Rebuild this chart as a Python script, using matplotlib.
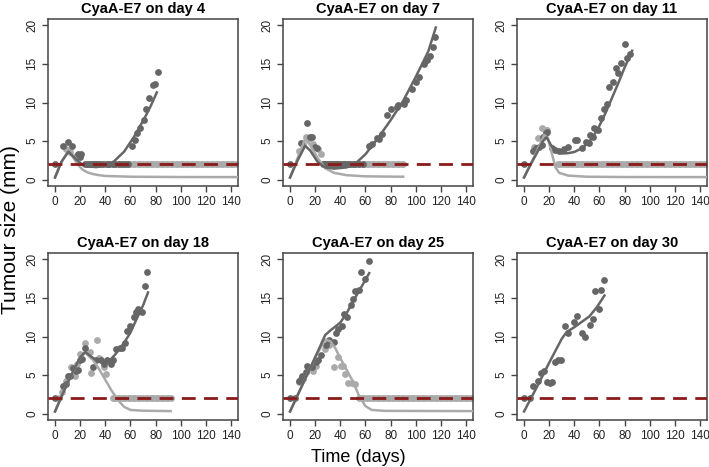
import numpy as np
import matplotlib
matplotlib.use("Agg")
import matplotlib.pyplot as plt

plt.rcParams['font.family'] = ['Liberation Sans', 'DejaVu Sans']

DARK = '#666666'
LIGHT = '#aaaaaa'
RED = '#8b1a1a'
LIMIT = 2.0  # detection limit (mm)

titles = ['CyaA-E7 on day 4', 'CyaA-E7 on day 7', 'CyaA-E7 on day 11',
          'CyaA-E7 on day 18', 'CyaA-E7 on day 25', 'CyaA-E7 on day 30']
xticks = [0, 20, 40, 60, 80, 100, 120, 140]
yticks = [0, 5, 10, 15, 20]

# ---- day 4
d4_dark_t = [0, 6.7, 10.7, 13.3, 18, 19.5, 21, 61, 64, 65.5, 68, 71, 72, 75, 77.6, 79.5, 82]
d4_dark_y = [2.0, 4.4, 4.9, 4.4, 3.4, 3.0, 3.4, 4.4, 5.2, 6.0, 6.75, 7.7, 9.1, 10.6, 12.3, 12.4, 13.9]
d4_light_t = [9, 12, 17]
d4_light_y = [4.0, 3.6, 3.1]
d4_cens_dark = [24, 25.5, 27, 28.5, 30, 31.5, 33, 34.5, 36, 38, 41, 43, 46, 48, 51, 53, 56, 58]
d4_cens_light = [40, 42, 44, 46, 48, 50, 52, 54, 56, 58, 60, 62, 64, 66, 68, 70, 72, 74, 76,
                 78, 80, 82, 84, 86, 88, 90, 92, 94, 96, 98, 100, 102, 104, 106, 108, 110,
                 112, 114, 116, 118, 120, 122, 124, 126, 128, 130, 132, 134, 136, 138, 140,
                 142, 144]
d4_fit_t = [0, 5, 10.7, 17, 22.7, 28, 33, 41, 47, 55, 63, 71, 76, 81]
d4_fit_y = [0.3, 2.3, 3.65, 2.6, 1.85, 1.7, 1.65, 1.85, 2.4, 3.65, 5.6, 7.9, 9.5, 11.3]
d4_clear_t = [0, 5, 10, 14, 18, 22, 26, 30, 35, 40, 50, 60, 80, 100, 145]
d4_clear_y = [0.3, 2.3, 3.6, 3.0, 2.0, 1.3, 0.95, 0.75, 0.6, 0.5, 0.45, 0.4, 0.38, 0.36, 0.35]

# ---- day 7
d7_dark_t = [0, 8.6, 13.8, 15.6, 17.7, 19.8, 21.6, 62.5, 65, 69, 70.5, 72.8, 77.3, 80.7, 85,
             86.3, 91, 92, 97, 100, 103, 106.4, 109, 111.6, 113.7, 115]
d7_dark_y = [2.0, 4.7, 7.4, 5.5, 5.5, 4.3, 4.1, 4.4, 4.6, 5.4, 5.3, 5.9, 8.4, 9.1, 9.4,
             9.7, 9.8, 10.3, 11.7, 12.7, 13.3, 15.0, 15.5, 16.0, 17.2, 18.5]
d7_light_t = [7.3, 10, 12.5, 15, 18, 22, 25]
d7_light_y = [3.7, 4.6, 5.6, 5.3, 4.6, 4.0, 3.4]
d7_cens_dark = [26, 27.5, 29, 30.5, 32, 33.5, 35, 36.5, 38, 40, 42, 44, 46, 48, 50, 52,
                55, 58]
d7_cens_light = [27, 29, 31, 33, 35, 37, 39, 41, 43, 45, 47, 49, 51, 53, 55, 57, 59, 61,
                 63, 65, 67, 69, 71, 73, 75, 77, 79, 81, 83, 85, 87, 89, 90]
d7_fit_t = [0, 6, 12, 16, 22, 28, 35, 45, 52, 60, 70, 80, 90, 100, 110, 116]
d7_fit_y = [0.3, 2.5, 4.4, 3.8, 2.3, 1.6, 1.45, 1.6, 2.1, 3.3, 5.4, 7.7, 10.2, 13.3, 16.6, 19.7]
d7_clear_t = [0, 6, 12, 16, 22, 28, 35, 45, 60, 75, 90]
d7_clear_y = [0.3, 2.8, 5.3, 4.5, 2.8, 1.5, 0.9, 0.6, 0.45, 0.42, 0.4]

# ---- day 11
d11_dark_t = [0, 7, 9.6, 12, 14, 14.7, 17.3, 18, 22.5, 25, 27.6, 31.5, 34.6, 40.6, 42.4,
              46.5, 49.6, 51.7, 52.7, 54.8, 56, 58.7, 61.2, 63.8, 66.4, 67.7, 70.8,
              72.9, 75, 77.5, 80, 82, 84]
d11_dark_y = [2.0, 3.7, 4.1, 4.3, 4.5, 5.6, 6.0, 6.2, 4.1, 3.8, 3.7, 4.0, 4.3, 5.1, 5.1,
              4.1, 4.9, 4.7, 5.8, 5.6, 6.7, 6.5, 8.0, 9.2, 9.8, 12.0, 12.7,
              14.4, 13.8, 15.1, 17.6, 15.7, 16.3]
d11_light_t = [8, 10.9, 14, 16.5, 18.6]
d11_light_y = [4.2, 5.4, 6.75, 6.45, 6.45]
d11_cens_dark = []
d11_cens_light = [27, 29, 31, 33, 35, 37, 39, 41, 43, 45, 47, 49, 51, 53, 55, 57, 59, 61,
                  63, 65, 67, 69, 71, 73, 75, 77, 79, 81, 83, 85, 87, 89, 91, 93, 95, 97,
                  99, 101, 103, 105, 107, 109, 111, 113, 115, 117, 119, 121, 123, 125,
                  127, 129, 131, 133, 135, 137, 139, 141, 143, 145]
d11_fit_t = [0, 5, 10, 15, 18, 21, 25, 30, 35, 40, 45, 50, 55, 60, 65, 70, 75, 80, 86]
d11_fit_y = [0.3, 1.9, 3.4, 5.0, 5.5, 4.6, 3.7, 3.4, 3.45, 3.6, 4.0, 4.6, 5.6, 7.0, 8.7,
             10.6, 12.5, 14.5, 16.7]
d11_clear_t = [0, 5, 10, 16, 19, 22, 25, 28, 35, 50, 80, 145]
d11_clear_y = [0.3, 2.0, 3.6, 5.8, 5.4, 3.5, 1.6, 0.9, 0.55, 0.4, 0.36, 0.35]

# ---- day 18
d18_dark_t = [0, 6.5, 9.1, 10.4, 12, 14.3, 16.4, 18.2, 19.5, 21.6, 24.2, 30, 32.6, 36.5, 39,
              41.7, 44.3, 46, 48.2, 51.3, 53.4, 55.5, 57.3, 59.9, 62.5, 64.3, 66.4, 69,
              71.6, 73.4]
d18_dark_y = [2.0, 3.65, 3.9, 4.9, 4.9, 5.9, 5.6, 5.7, 7.0, 7.1, 8.5, 6.1, 6.9, 6.9, 6.45,
              6.9, 6.45, 7.0, 8.4, 8.5, 8.5, 9.1, 10.7, 11.3, 12.5, 13.2, 13.5, 13.2,
              16.5, 18.3]
d18_light_t = [5.2, 8.6, 13, 15.6, 17.4, 20, 24.2, 27.9, 28.6, 33, 35, 39, 40.9]
d18_light_y = [2.8, 4.3, 6.0, 4.9, 6.5, 7.7, 9.2, 8.0, 5.3, 9.5, 7.2, 6.0, 5.2]
d18_cens_dark = []
d18_cens_light = [3, 46, 48, 50, 52, 54, 56, 58, 60, 62, 64, 66, 68, 70, 72, 74, 76, 78,
                  80, 82, 84, 86, 88, 90, 92]
d18_fit_t = [0, 5, 10, 15, 20, 24, 28, 33, 38, 43, 48, 55, 60, 65, 70, 74]
d18_fit_y = [0.3, 2.2, 4.0, 5.7, 7.3, 8.0, 7.5, 6.9, 6.6, 6.8, 7.7, 9.2, 10.5, 12.3, 14.0, 15.7]
d18_clear_t = [0, 10, 20, 24, 30, 35, 40, 45, 50, 55, 60, 70, 92]
d18_clear_y = [0.3, 4.0, 7.3, 7.9, 7.0, 5.8, 4.4, 3.0, 1.8, 0.9, 0.5, 0.4, 0.35]

# ---- day 25
d25_dark_t = [0, 4.2, 6.8, 8.6, 9.9, 12.5, 13.8, 17.2, 20.3, 22, 25, 28.6, 31.2, 34.6, 36.5,
              38.5, 41, 43, 45, 48.4, 50.3, 52, 54.7, 56.8, 59.4, 62.5]
d25_dark_y = [2.0, 2.0, 4.3, 4.5, 4.9, 5.4, 6.2, 6.0, 6.75, 6.9, 7.6, 8.9, 9.6, 9.3, 10.5,
              11.0, 11.3, 12.9, 12.5, 14.1, 14.8, 15.9, 16.0, 18.3, 17.5, 19.8]
d25_light_t = [6.8, 10, 18.2, 20.3, 27.6, 31.2, 34.6, 38.5, 40.6, 42.4, 43.7, 46.4, 49, 52]
d25_light_y = [4.1, 4.5, 5.5, 6.2, 8.4, 8.9, 6.1, 7.3, 6.2, 6.2, 5.2, 4.0, 4.0, 3.9]
d25_cens_dark = []
d25_cens_light = [55, 57, 59, 61, 63, 65, 67, 69, 71, 73, 75, 77, 79, 81, 83, 85, 87, 89,
                  91, 93, 95, 97, 99, 101, 103, 105, 107, 109, 111, 113, 115, 117, 119,
                  121, 123, 125, 127, 129, 131, 133, 135, 137, 139, 141, 143, 145]
d25_fit_t = [0, 10, 20, 28, 33, 40, 45, 50, 55, 63]
d25_fit_y = [0.3, 3.8, 7.3, 10.2, 10.9, 11.8, 13.0, 14.5, 15.9, 18.2]
d25_clear_t = [0, 10, 20, 28, 32, 36, 40, 45, 50, 55, 60, 65, 75, 145]
d25_clear_y = [0.3, 3.8, 7.3, 9.6, 9.4, 8.5, 7.2, 5.7, 4.2, 2.3, 1.0, 0.5, 0.38, 0.35]

# ---- day 30
d30_dark_t = [0, 4.4, 7, 10.9, 13.4, 15.5, 18.1, 20.4, 22.5, 25, 26.9, 29.5, 32.8, 34.9,
              39.8, 41.9, 46.3, 48.3, 52.2, 54.7, 56.1, 59.4, 61.2, 63.3]
d30_dark_y = [2.0, 2.0, 3.6, 4.3, 5.3, 5.5, 4.1, 4.0, 4.1, 6.75, 7.0, 6.9, 11.4, 10.5,
              11.9, 12.7, 10.5, 10.0, 11.5, 12.3, 15.9, 13.5, 16.0, 17.3]
d30_light_t = []
d30_light_y = []
d30_cens_dark = []
d30_cens_light = []
d30_fit_t = [0, 10, 20, 30, 34, 40, 46, 52, 58, 64]
d30_fit_y = [0.3, 3.4, 6.6, 9.7, 10.6, 11.2, 11.9, 12.6, 13.8, 15.3]
d30_clear_t = []
d30_clear_y = []

panels = [
    (d4_dark_t, d4_dark_y, d4_light_t, d4_light_y, d4_cens_dark, d4_cens_light,
     d4_fit_t, d4_fit_y, d4_clear_t, d4_clear_y),
    (d7_dark_t, d7_dark_y, d7_light_t, d7_light_y, d7_cens_dark, d7_cens_light,
     d7_fit_t, d7_fit_y, d7_clear_t, d7_clear_y),
    (d11_dark_t, d11_dark_y, d11_light_t, d11_light_y, d11_cens_dark, d11_cens_light,
     d11_fit_t, d11_fit_y, d11_clear_t, d11_clear_y),
    (d18_dark_t, d18_dark_y, d18_light_t, d18_light_y, d18_cens_dark, d18_cens_light,
     d18_fit_t, d18_fit_y, d18_clear_t, d18_clear_y),
    (d25_dark_t, d25_dark_y, d25_light_t, d25_light_y, d25_cens_dark, d25_cens_light,
     d25_fit_t, d25_fit_y, d25_clear_t, d25_clear_y),
    (d30_dark_t, d30_dark_y, d30_light_t, d30_light_y, d30_cens_dark, d30_cens_light,
     d30_fit_t, d30_fit_y, d30_clear_t, d30_clear_y),
]

W, H = 709, 467
fig = plt.figure(figsize=(W / 100, H / 100), dpi=100)

lefts = [48, 283, 517]
tops = [19, 253]
pw, ph = 190, 167

for i, (title, p) in enumerate(zip(titles, panels)):
    dt, dy, lt, ly, cd, cl, ft, fy, ct, cy = p
    l = lefts[i % 3]
    t = tops[i // 3]
    ax = fig.add_axes([l / W, 1 - (t + ph) / H, pw / W, ph / H])

    ax.scatter(cl, [LIMIT] * len(cl), s=24, color=LIGHT, lw=0, zorder=2)
    ax.scatter(lt, ly, s=24, color=LIGHT, lw=0, zorder=2)
    ax.scatter(cd, [LIMIT] * len(cd), s=24, color=DARK, lw=0, zorder=3)
    ax.scatter(dt, dy, s=24, color=DARK, lw=0, zorder=3)
    ax.plot(ct, cy, color=LIGHT, lw=1.8, zorder=4)
    ax.plot(ft, fy, color=DARK, lw=1.8, zorder=5)
    ax.axhline(LIMIT, color=RED, lw=2.0, dashes=(5, 3), zorder=6)

    ax.set_xlim(-5.6, 145.6)
    ax.set_ylim(-0.8, 20.8)
    ax.set_xticks(xticks)
    ax.set_yticks(yticks)
    ax.set_yticklabels([str(v) for v in yticks], rotation=90, va='center')
    ax.tick_params(direction='out', length=4, width=1, color='#444444',
                   labelsize=8.5, labelcolor='#222222', pad=3)
    for s in ax.spines.values():
        s.set_color('#444444')
        s.set_linewidth(1.1)
    ax.set_title(title, fontsize=10.5, fontweight='bold', pad=4)

fig.text(11 / W, 1 - 230 / H, 'Tumour size (mm)', rotation=90, ha='center', va='center',
         fontsize=15)
fig.text(358 / W, 1 - 457 / H, 'Time (days)', ha='center', va='center', fontsize=13)

fig.savefig('out.png', dpi=100)
